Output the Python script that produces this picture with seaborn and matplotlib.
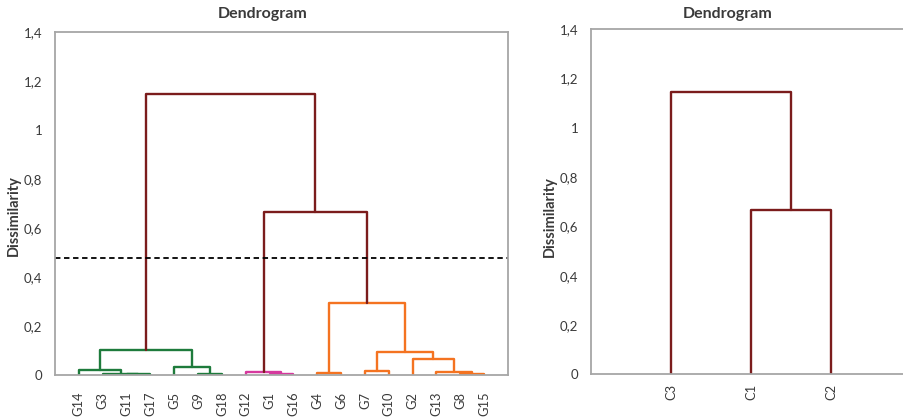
import matplotlib
matplotlib.use("Agg")
import matplotlib.pyplot as plt
import seaborn as sns
import pandas as pd
import numpy as np

# ---------------- data ----------------
leaves_left = ["G14", "G3", "G11", "G17", "G5", "G9", "G18", "G12", "G1", "G16",
               "G4", "G6", "G7", "G10", "G2", "G13", "G8", "G15"]
# merges: node ids 0..17 are leaves, new clusters numbered from 18
left_a = [2, 1, 0, 5, 4, 20, 8, 7, 10, 12, 16, 15, 14, 27, 26, 25, 23]
left_b = [3, 18, 19, 6, 21, 22, 9, 24, 11, 13, 17, 28, 29, 30, 31, 32, 33]
left_height = [0.003, 0.005, 0.022, 0.005, 0.034, 0.102, 0.005, 0.011, 0.009,
               0.015, 0.005, 0.013, 0.067, 0.093, 0.294, 0.665, 1.147]
left_group = ["green"] * 6 + ["magenta"] * 2 + ["orange"] * 7 + ["root"] * 2
truncation = 0.478

leaves_right = ["C3", "C1", "C2"]
right_a = [1, 0]
right_b = [2, 3]
right_height = [0.665, 1.147]
right_group = ["root", "root"]

yticks = [0, 0.2, 0.4, 0.6, 0.8, 1.0, 1.2, 1.4]
ytick_labels = ["0", "0,2", "0,4", "0,6", "0,8", "1", "1,2", "1,4"]

palette = {"green": "#1e7b3c", "magenta": "#d6399e", "orange": "#f47321", "root": "#7b1c1c"}


def segments(leaves, a, b, h, g):
    n = len(leaves)
    xpos = {i: i + 1 for i in range(n)}
    ypos = {i: 0.0 for i in range(n)}
    rows = []
    for k, (ca, cb, hh, gg) in enumerate(zip(a, b, h, g)):
        node = n + k
        xa, xb = xpos[ca], xpos[cb]
        pts = [(xa, ypos[ca]), (xa, hh), (xb, hh), (xb, ypos[cb])]
        for j, (px, py) in enumerate(pts):
            rows.append({"seg": k, "order": j, "x": px, "y": py, "group": gg})
        xpos[node] = (xa + xb) / 2
        ypos[node] = hh
    return pd.DataFrame(rows)


df_left = segments(leaves_left, left_a, left_b, left_height, left_group)
df_right = segments(leaves_right, right_a, right_b, right_height, right_group)

# ---------------- figure ----------------
sns.set_theme(style="white")
plt.rcParams["font.family"] = ["Lato", "DejaVu Sans"]

fig = plt.figure(figsize=(9.04, 4.17), dpi=100)
ax1 = fig.add_axes([55 / 904, 42 / 417, 453 / 904, 343 / 417])
ax2 = fig.add_axes([591 / 904, 42.7 / 417, 320 / 904, 345 / 417])

spine_col = "#a6a6a6"
text_col = "#3a3a3a"

for ax, df, leaves, pad in [(ax1, df_left, leaves_left, 12), (ax2, df_right, leaves_right, 7)]:
    sns.lineplot(data=df, x="x", y="y", units="seg", estimator=None, sort=False,
                 hue="group", palette=palette, linewidth=1.7, legend=False, ax=ax)
    ax.set_xlim(0, len(leaves) + 1)
    ax.set_ylim(0, 1.4)
    ax.set_xticks(np.arange(1, len(leaves) + 1))
    ax.set_xticklabels(leaves, rotation=90, fontsize=9.3, color=text_col)
    ax.set_yticks(yticks)
    ax.set_yticklabels(ytick_labels, fontsize=9.5, color=text_col)
    ax.tick_params(axis="x", length=0, pad=pad)
    ax.tick_params(axis="y", length=6, direction="inout", color=spine_col, width=1.2, pad=6)
    for s in ax.spines.values():
        s.set_color(spine_col)
        s.set_linewidth(1.3)
        s.set_visible(True)
    ax.set_xlabel("")
    ax.set_ylabel("")

ax2.spines["right"].set_visible(False)
ax1.axhline(truncation, color="black", linestyle=(0, (3, 2)), linewidth=1.3)

fig.text(263 / 904, 1 - 14 / 417, "Dendrogram", ha="center", va="center",
         fontsize=11.5, fontweight="bold", color=text_col)
fig.text(728 / 904, 1 - 14 / 417, "Dendrogram", ha="center", va="center",
         fontsize=11.5, fontweight="bold", color=text_col)
fig.text(14 / 904, 1 - 216 / 417, "Dissimilarity", rotation=90, ha="center", va="center",
         fontsize=10.5, fontweight="bold", color=text_col)
fig.text(550 / 904, 1 - 217 / 417, "Dissimilarity", rotation=90, ha="center", va="center",
         fontsize=10.5, fontweight="bold", color=text_col)

fig.savefig("out.png", dpi=100)
